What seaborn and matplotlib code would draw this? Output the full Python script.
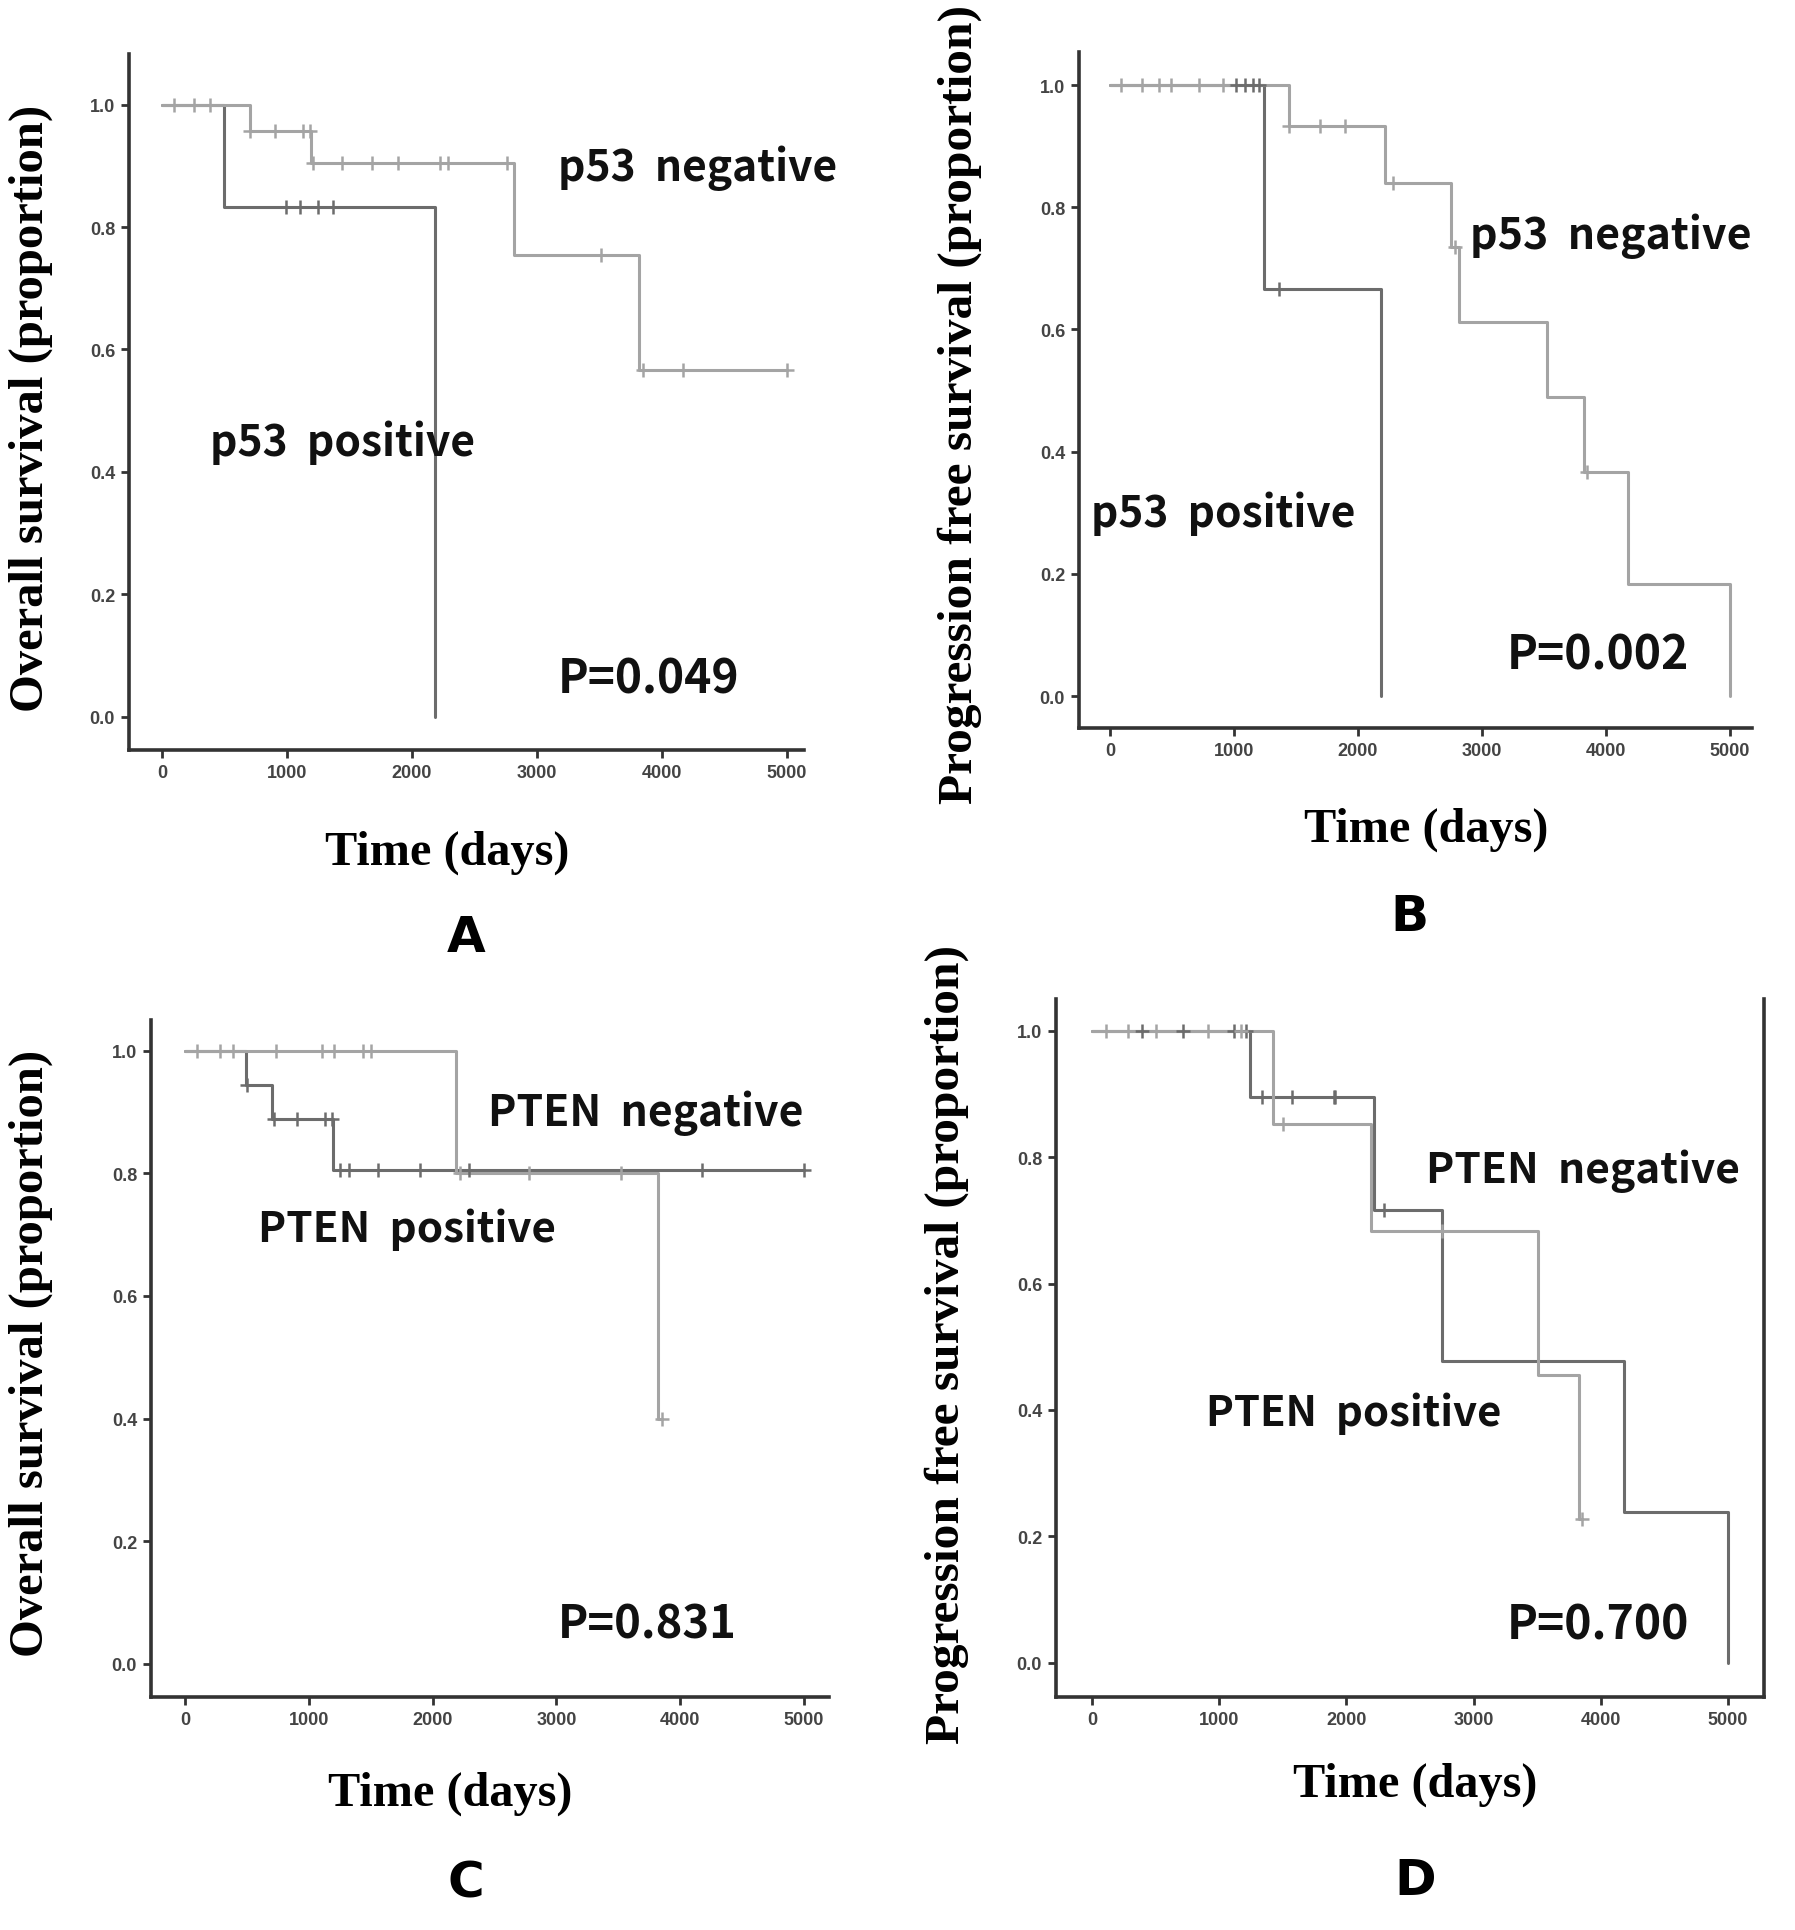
import numpy as np
import matplotlib
matplotlib.use("Agg")
import matplotlib.pyplot as plt
import seaborn as sns

# ---------------- data ----------------
# Panel A: overall survival by p53
a_neg_events = [700, 1195, 2815, 3815]
a_neg_surv = [0.957, 0.905, 0.754, 0.566]
a_neg_censor = [95, 255, 385, 705, 905, 1125, 1180, 1210, 1440, 1680, 1890, 2225, 2285, 2760, 3510, 3845, 4170, 5000]
a_pos_events = [495, 2180]
a_pos_surv = [0.833, 0.0]
a_pos_censor = [995, 1100, 1250, 1365]

# Panel B: progression free survival by p53
b_neg_events = [1440, 2215, 2750, 2815, 3520, 3820, 4180, 5000]
b_neg_surv = [0.933, 0.84, 0.735, 0.612, 0.49, 0.367, 0.184, 0.0]
b_neg_censor = [90, 255, 395, 495, 715, 910, 1445, 1695, 1895, 2285, 2785, 3845]
b_pos_events = [1245, 2185]
b_pos_surv = [0.667, 0.0]
b_pos_censor = [1015, 1085, 1155, 1200, 1360]

# Panel C: overall survival by PTEN
c_neg_events = [2190, 3820]
c_neg_surv = [0.8, 0.4]
c_neg_censor = [100, 285, 390, 735, 1105, 1205, 1440, 1505, 2220, 2775, 3525, 3855]
c_pos_events = [493, 700, 1198]
c_pos_surv = [0.944, 0.889, 0.806]
c_pos_censor = [502, 715, 908, 1130, 1185, 1255, 1325, 1560, 1900, 2290, 4180, 5000]

# Panel D: progression free survival by PTEN
d_neg_events = [1425, 2190, 3510, 3825]
d_neg_surv = [0.852, 0.683, 0.455, 0.228]
d_neg_censor = [110, 280, 500, 910, 1175, 1500, 2750, 3855]
d_pos_events = [1240, 2220, 2755, 4180, 5000]
d_pos_surv = [0.895, 0.716, 0.478, 0.239, 0.0]
d_pos_censor = [395, 715, 1120, 1210, 1335, 1570, 1905, 1910, 2295]

x_ticks = [0, 1000, 2000, 3000, 4000, 5000]
y_ticks = [0.0, 0.2, 0.4, 0.6, 0.8, 1.0]

labels = {
    "A": ("Overall survival (proportion)", "p53  negative", "p53  positive", "P=0.049"),
    "B": ("Progression free survival (proportion)", "p53  negative", "p53  positive", "P=0.002"),
    "C": ("Overall survival (proportion)", "PTEN  negative", "PTEN  positive", "P=0.831"),
    "D": ("Progression free survival (proportion)", "PTEN  negative", "PTEN  positive", "P=0.700"),
}
x_label = "Time (days)"

# ---------------- styling ----------------
sns.set_theme(style="white")
plt.rcParams["font.family"] = ["Liberation Sans", "DejaVu Sans"]

W, H = 1795, 1931
fig = plt.figure(figsize=(W / 100, H / 100), dpi=100)
fig.patch.set_facecolor("white")

NEG = "#a4a4a4"
POS = "#6c6c6c"
SPINE = "#333333"

# panel geometry in pixels: left, right, top, bottom of axes box, and limits
geom = {
    "A": dict(l=129, r=804, t=55, b=751, xlim=(-264, 5136), ylim=(-0.054, 1.0825)),
    "B": dict(l=1079, r=1752, t=53, b=729, xlim=(-250, 5177), ylim=(-0.052, 1.054)),
    "C": dict(l=151, r=829, t=1021, b=1698, xlim=(-275, 5202), ylim=(-0.054, 1.05)),
    "D": dict(l=1056, r=1764, t=1000, b=1698, xlim=(-283, 5283), ylim=(-0.054, 1.05)),
}

data = {
    "A": ((a_neg_events, a_neg_surv, a_neg_censor), (a_pos_events, a_pos_surv, a_pos_censor)),
    "B": ((b_neg_events, b_neg_surv, b_neg_censor), (b_pos_events, b_pos_surv, b_pos_censor)),
    "C": ((c_neg_events, c_neg_surv, c_neg_censor), (c_pos_events, c_pos_surv, c_pos_censor)),
    "D": ((d_neg_events, d_neg_surv, d_neg_censor), (d_pos_events, d_pos_surv, d_pos_censor)),
}


def level_at(t, events, surv):
    s = 1.0
    for e, v in zip(events, surv):
        if e <= t:
            s = v
    return s


def draw_group(ax, events, surv, censor, color):
    xs = [0] + list(events)
    ys = [1.0] + list(surv)
    tend = max(list(censor) + list(events))
    if tend > events[-1]:
        xs.append(tend)
        ys.append(surv[-1])
    sns.lineplot(x=xs, y=ys, ax=ax, color=color, linewidth=2.2,
                 drawstyle="steps-post", estimator=None, sort=False)
    cy = [level_at(t, events, surv) for t in censor]
    sns.scatterplot(x=censor, y=cy, ax=ax, marker="+", s=90, color=color,
                    linewidth=1.8, zorder=4)


axes = {}
for key, g in geom.items():
    ax = fig.add_axes([g["l"] / W, 1 - g["b"] / H, (g["r"] - g["l"]) / W, (g["b"] - g["t"]) / H])
    axes[key] = ax
    (ne, ns, nc), (pe, ps, pc) = data[key]
    draw_group(ax, pe, ps, pc, POS)
    draw_group(ax, ne, ns, nc, NEG)
    ax.set_xlim(*g["xlim"])
    ax.set_ylim(*g["ylim"])
    ax.set_xticks(x_ticks)
    ax.set_xticklabels([str(v) for v in x_ticks])
    ax.set_yticks(y_ticks)
    ax.set_yticklabels([f"{v:.1f}" for v in y_ticks])
    ax.set_xlabel("")
    ax.set_ylabel("")
    ax.tick_params(axis="both", direction="out", length=6, width=2, color=SPINE,
                   labelsize=13, labelcolor="#444444", pad=4, bottom=True, left=True)
    for lab in ax.get_xticklabels() + ax.get_yticklabels():
        lab.set_fontweight("bold")
    for side in ["top", "right"]:
        ax.spines[side].set_visible(False)
    for side in ["left", "bottom"]:
        ax.spines[side].set_color(SPINE)
        ax.spines[side].set_linewidth(2.6)
    ax.grid(False)
    ax.set_facecolor("white")

axes["D"].spines["right"].set_visible(True)
axes["D"].spines["right"].set_color(SPINE)
axes["D"].spines["right"].set_linewidth(2.6)

renderer = fig.canvas.get_renderer()


def fit_text(xpx, ypx, s, target, rotation=0, **kw):
    t = fig.text(xpx / W, 1 - ypx / H, s, ha="center", va="center", fontsize=20, **kw)
    bb = t.get_window_extent(renderer)
    t.set_fontsize(20 * target / bb.width)
    t.set_rotation(rotation)
    return t


serif = dict(family=["Liberation Serif", "DejaVu Serif"], fontweight="bold", color="black")
sans = dict(family=["Noto Sans CJK KR", "DejaVu Sans"], fontweight="bold", color="#111111")
heavy = dict(family=["DejaVu Sans"], fontweight="heavy", color="black")

# y labels: (x, y, length)
ylab_pos = {"A": (31, 408, 607), "B": (960, 405, 798), "C": (31, 1353, 607), "D": (947, 1344, 798)}
xlab_pos = {"A": (447, 853), "B": (1426, 830), "C": (450, 1794), "D": (1415, 1785)}
letter_pos = {"A": (466, 938), "B": (1409, 917), "C": (466, 1884), "D": (1415, 1881)}
# annotation centers and widths: negative, positive, p-value
ann_pos = {
    "A": ((698, 168, 280), (342, 443, 266), (649, 680, 182)),
    "B": ((1611, 236, 282), (1223, 514, 265), (1598, 656, 183)),
    "C": ((646, 1113, 316), (407, 1230, 298), (647, 1626, 179)),
    "D": ((1583, 1171, 314), (1354, 1414, 296), (1598, 1626, 183)),
}

for key in geom:
    ylab, neg_lab, pos_lab, ptxt = labels[key]
    x, y, L = ylab_pos[key]
    fit_text(x, y, ylab, L, rotation=90, **serif)
    x, y = xlab_pos[key]
    fit_text(x, y, x_label, 245, **serif)
    x, y = letter_pos[key]
    fig.text(x / W, 1 - y / H, key, ha="center", va="center", fontsize=36, **heavy)
    (nx, ny, nw), (px, py, pw), (vx, vy, vw) = ann_pos[key]
    fit_text(nx, ny, neg_lab, nw, **sans)
    fit_text(px, py, pos_lab, pw, **sans)
    fit_text(vx, vy, ptxt, vw, **sans)

fig.savefig("out.png", dpi=100, facecolor="white")
